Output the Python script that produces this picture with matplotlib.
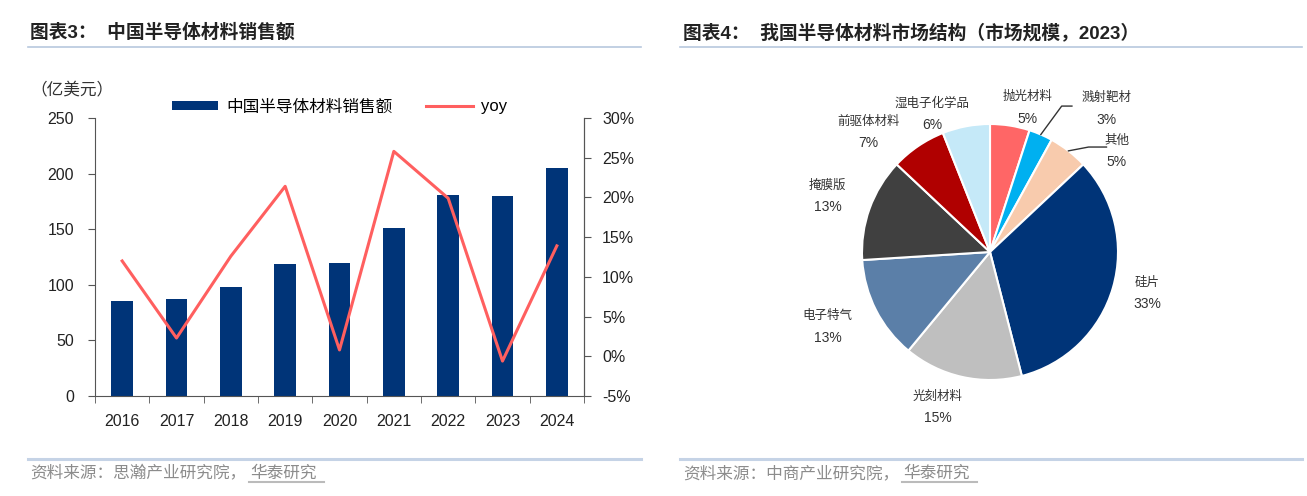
import matplotlib.pyplot as plt
from matplotlib.lines import Line2D
import numpy as np

# 字体：数字用Liberation Sans，中文回退到思源黑体
plt.rcParams['font.family'] = ['Liberation Sans', 'Noto Sans CJK SC']
plt.rcParams['axes.unicode_minus'] = False

# ---------------- 数据 ----------------
years = ['2016', '2017', '2018', '2019', '2020', '2021', '2022', '2023', '2024']
sales = [85, 87, 98, 119, 120, 151, 181, 180, 205]          # 亿美元
yoy = [12.0, 2.3, 12.6, 21.4, 0.8, 25.8, 19.9, -0.6, 13.9]  # %

pie_names = ['抛光材料', '溅射靶材', '其他', '硅片', '光刻材料', '电子特气', '掩膜版', '前驱体材料', '湿电子化学品']
pie_shares = [5, 3, 5, 33, 15, 13, 13, 7, 6]
pie_colors = ['#FF6666', '#00B0F0', '#F8CBAD', '#003478', '#BFBFBF', '#5B7FA8', '#404040', '#B00000', '#C5E9F8']
# 标签位置（饼图坐标，半径为1）
label_xy = [(0.29, 1.21), (0.91, 1.20), (0.99, 0.87), (1.23, -0.24), (-0.41, -1.13),
            (-1.27, -0.50), (-1.27, 0.52), (-0.95, 1.02), (-0.45, 1.16)]

W, H = 1307, 496
fig = plt.figure(figsize=(W / 100, H / 100), dpi=100)

def fx(px):
    return px / W

def fy(py):
    return 1 - py / H

# ---------------- 标题、分割线、资料来源 ----------------
fig.text(fx(30), fy(33), '图表3：  中国半导体材料销售额', fontsize=13.5, fontweight='bold', va='center', color='#222222')
fig.text(fx(683), fy(33), '图表4：  我国半导体材料市场结构（市场规模，2023）', fontsize=13.5, fontweight='bold', va='center', color='#222222')
for x0, x1 in [(28, 641), (680, 1302)]:
    fig.add_artist(Line2D([fx(x0), fx(x1)], [fy(47), fy(47)], color='#B8C8DE', lw=1.2))
    fig.add_artist(Line2D([fx(x0), fx(x1)], [fy(459), fy(459)], color='#C5D3E6', lw=2.2))
fig.text(fx(30), fy(473), '资料来源：思瀚产业研究院，', fontsize=12, va='center', color='#8C8C8C')
fig.text(fx(250), fy(473), '华泰研究', fontsize=12, va='center', color='#8C8C8C')
fig.add_artist(Line2D([fx(249), fx(324)], [fy(482), fy(482)], color='#BBBBBB', lw=1.5))
fig.text(fx(683), fy(473), '资料来源：中商产业研究院，', fontsize=12, va='center', color='#8C8C8C')
fig.text(fx(903), fy(473), '华泰研究', fontsize=12, va='center', color='#8C8C8C')
fig.add_artist(Line2D([fx(902), fx(977)], [fy(482), fy(482)], color='#BBBBBB', lw=1.5))

# ---------------- 左图：柱状图 + 折线 ----------------
ax = fig.add_axes([fx(95), fy(396), fx(584) - fx(95), fy(118) - fy(396)])
x = np.arange(len(years))
bars = ax.bar(x, sales, width=0.4, color='#003478', label='中国半导体材料销售额', zorder=2)
ax.set_xlim(-0.5, len(years) - 0.5)
ax.set_ylim(0, 250)
ax.set_yticks([0, 50, 100, 150, 200, 250])
ax.set_xticks(x)
ax.set_xticklabels(years)
ax.tick_params(axis='x', length=0, pad=13, labelsize=11.5, labelcolor='#222222')
ax.set_xticks(np.arange(-0.5, len(years)), minor=True)
ax.tick_params(axis='x', which='minor', length=5, direction='out', color='#555555')
ax.tick_params(axis='y', length=5, direction='out', pad=10, labelsize=11.5, labelcolor='#222222', color='#555555')
for s in ['left', 'bottom', 'right']:
    ax.spines[s].set_color('#555555')
ax.spines['top'].set_visible(False)

ax2 = ax.twinx()
line, = ax2.plot(x, yoy, color='#FF5F5F', lw=2.2, label='yoy', zorder=3)
ax2.set_ylim(-5, 30)
ax2.set_yticks(range(-5, 31, 5))
ax2.set_yticklabels([f'{v}%' for v in range(-5, 31, 5)])
ax2.tick_params(axis='y', length=5, direction='out', pad=8, labelsize=11.5, labelcolor='#222222', color='#555555')
ax2.spines['right'].set_color('#555555')
ax2.spines['top'].set_visible(False)
ax2.spines['left'].set_visible(False)
ax2.spines['bottom'].set_visible(False)

fig.text(fx(30), fy(90), '（亿美元）', fontsize=12, va='center', color='#333333')

leg = ax.legend([bars, line], ['中国半导体材料销售额', 'yoy'], loc='center', bbox_to_anchor=(0.5, 1.04),
                ncol=2, frameon=False, fontsize=12, handlelength=2.8, handleheight=0.45,
                columnspacing=2.0, handletextpad=0.5, borderaxespad=0)

# ---------------- 右图：饼图 ----------------
pax = fig.add_axes([fx(862), fy(380), fx(1118) - fx(862), fy(124) - fy(380)])
wedges, _ = pax.pie(pie_shares, colors=pie_colors, startangle=90, counterclock=False,
                    wedgeprops=dict(edgecolor='white', linewidth=1.5))
pax.set_xlim(-1, 1)
pax.set_ylim(-1, 1)
for name, share, (lx, ly) in zip(pie_names, pie_shares, label_xy):
    pax.text(lx, ly, name, ha='center', va='center', fontsize=9, color='#333333')
    pax.text(lx, ly - 0.17, f'{share}%', ha='center', va='center', fontsize=10, color='#333333')

# 小扇区引线（溅射靶材、其他）
for i, pts in [(1, [(0.56, 1.14), (0.64, 1.14)]), (2, [(0.77, 0.82), (0.91, 0.82)])]:
    w = wedges[i]
    ang = np.deg2rad((w.theta1 + w.theta2) / 2)
    xs = [np.cos(ang)] + [p[0] for p in pts]
    ys = [np.sin(ang)] + [p[1] for p in pts]
    pax.plot(xs, ys, color='#333333', lw=1, clip_on=False)

fig.savefig('out.png', dpi=100)
